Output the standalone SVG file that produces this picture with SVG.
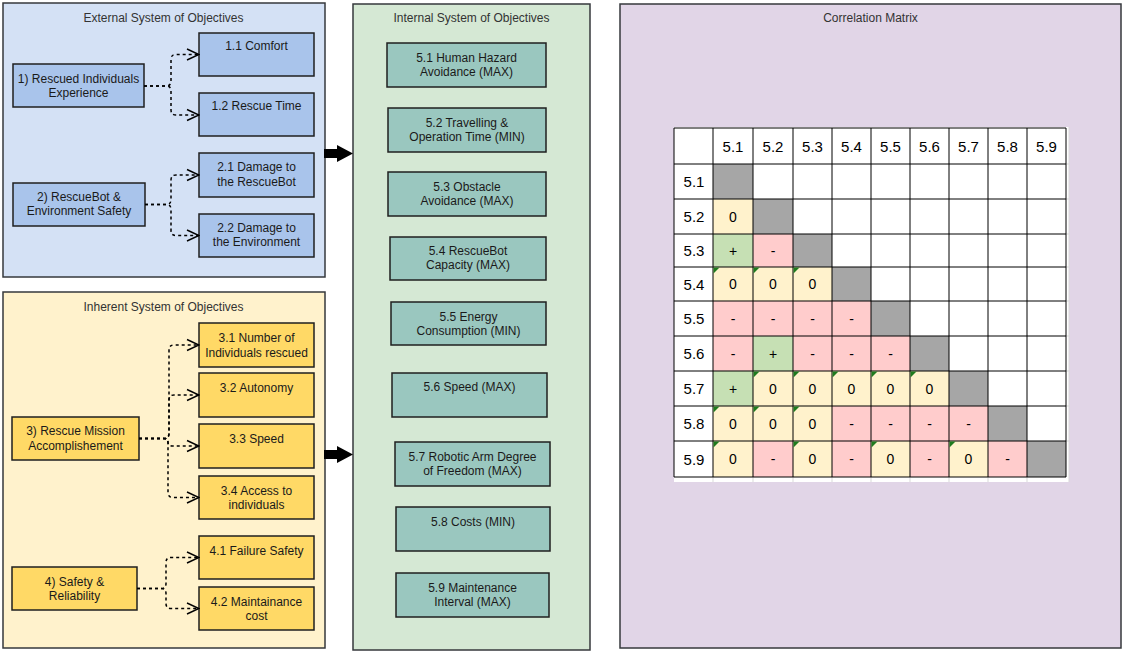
<svg xmlns="http://www.w3.org/2000/svg" width="1126" height="651" viewBox="0 0 1126 651">
<style>
.panel{stroke:#36393d;stroke-width:1.5}
.node{stroke:#1f1f1f;stroke-width:1.5}
.blue{fill:#a9c4eb}.gold{fill:#ffd966}.teal{fill:#9ac7bf}
.lbl{font-family:"Liberation Sans",Arial,sans-serif;font-size:12px;fill:#1a1a1a;text-anchor:middle}
.ttl{font-family:"Liberation Sans",Arial,sans-serif;font-size:12px;fill:#333;text-anchor:middle}
.conn{fill:none;stroke:#000;stroke-width:1.5;stroke-dasharray:3 3}
.mt{font-family:"Liberation Sans",Arial,sans-serif;font-size:15px;fill:#000;text-anchor:middle}
.mv{font-family:"Liberation Sans",Arial,sans-serif;font-size:14px;fill:#000;text-anchor:middle}
.cy{fill:#fff2cc}.cp{fill:#ffcccc}.cg{fill:#c6e0b4}.ck{fill:#a6a6a6}
.tri{fill:#1e7b1e}
.grid{stroke:#000;stroke-width:1}
.faint{stroke:#d9d9d9;stroke-width:1}
</style>
<defs>
<marker id="open" markerUnits="userSpaceOnUse" markerWidth="14" markerHeight="14" viewBox="0 0 14 14" refX="13" refY="7" orient="auto">
<path d="M1,1.5 L13,7 L1,12.5" fill="none" stroke="#000" stroke-width="1.5" stroke-dasharray="none"/>
</marker>
</defs>
<rect width="1126" height="651" fill="#ffffff"/>

<!-- Panels -->
<g id="external-panel">
<rect class="panel" x="3" y="3" width="322" height="274" fill="#d4e1f5"/>
<text class="ttl" x="163.5" y="22">External System of Objectives</text>
</g>
<g id="inherent-panel">
<rect class="panel" x="3" y="292" width="322" height="356" fill="#fff2cc"/>
<text class="ttl" x="163.5" y="310.5">Inherent System of Objectives</text>
</g>
<g id="internal-panel">
<rect class="panel" x="353" y="4" width="237" height="646" fill="#d5e8d4"/>
<text class="ttl" x="471.5" y="22">Internal System of Objectives</text>
</g>
<g id="correlation-panel">
<rect class="panel" x="620" y="4" width="501" height="644" fill="#e1d5e7"/>
<text class="ttl" x="870.5" y="22">Correlation Matrix</text>
</g>

<!-- External nodes -->
<g id="n1"><rect class="node blue" x="13" y="64" width="131" height="43"/><text class="lbl" x="78.5" y="83">1) Rescued Individuals</text><text class="lbl" x="78.5" y="97">Experience</text></g>
<g id="n1-1"><rect class="node blue" x="199" y="33" width="115" height="43"/><text class="lbl" x="256.5" y="50">1.1 Comfort</text></g>
<g id="n1-2"><rect class="node blue" x="199" y="93" width="115" height="43"/><text class="lbl" x="256.5" y="110">1.2 Rescue Time</text></g>
<g id="n2"><rect class="node blue" x="13" y="183" width="132" height="43"/><text class="lbl" x="79" y="201">2) RescueBot &amp;</text><text class="lbl" x="79" y="215">Environment Safety</text></g>
<g id="n2-1"><rect class="node blue" x="199" y="153" width="115" height="44"/><text class="lbl" x="256.5" y="171">2.1 Damage to</text><text class="lbl" x="256.5" y="186">the RescueBot</text></g>
<g id="n2-2"><rect class="node blue" x="199" y="214" width="115" height="43"/><text class="lbl" x="256.5" y="232">2.2 Damage to</text><text class="lbl" x="256.5" y="246">the Environment</text></g>

<!-- Inherent nodes -->
<g id="n3"><rect class="node gold" x="12" y="417" width="127" height="43"/><text class="lbl" x="75.5" y="435">3) Rescue Mission</text><text class="lbl" x="75.5" y="449.5">Accomplishement</text></g>
<g id="n3-1"><rect class="node gold" x="199" y="323" width="115" height="44"/><text class="lbl" x="256.5" y="342">3.1 Number of</text><text class="lbl" x="256.5" y="356.5">Individuals rescued</text></g>
<g id="n3-2"><rect class="node gold" x="199" y="373" width="115" height="44"/><text class="lbl" x="256.5" y="391.5">3.2 Autonomy</text></g>
<g id="n3-3"><rect class="node gold" x="199" y="424" width="115" height="44"/><text class="lbl" x="256.5" y="443">3.3 Speed</text></g>
<g id="n3-4"><rect class="node gold" x="199" y="476" width="115" height="43"/><text class="lbl" x="256.5" y="494.5">3.4 Access to</text><text class="lbl" x="256.5" y="509">individuals</text></g>
<g id="n4"><rect class="node gold" x="12" y="567" width="125" height="43"/><text class="lbl" x="74.5" y="585.5">4) Safety &amp;</text><text class="lbl" x="74.5" y="600">Reliability</text></g>
<g id="n4-1"><rect class="node gold" x="199" y="536" width="115" height="43"/><text class="lbl" x="256.5" y="554.5">4.1 Failure Safety</text></g>
<g id="n4-2"><rect class="node gold" x="199" y="587" width="115" height="43"/><text class="lbl" x="256.5" y="605.5">4.2 Maintainance</text><text class="lbl" x="256.5" y="620">cost</text></g>

<!-- Internal nodes -->
<g id="n5-1"><rect class="node teal" x="387" y="43" width="159" height="44"/><text class="lbl" x="466.5" y="61.5">5.1 Human Hazard</text><text class="lbl" x="466.5" y="76">Avoidance (MAX)</text></g>
<g id="n5-2"><rect class="node teal" x="388" y="108" width="158" height="44"/><text class="lbl" x="467" y="126.5">5.2 Travelling &amp;</text><text class="lbl" x="467" y="141">Operation Time (MIN)</text></g>
<g id="n5-3"><rect class="node teal" x="388" y="172" width="158" height="44"/><text class="lbl" x="467" y="190.5">5.3 Obstacle</text><text class="lbl" x="467" y="205">Avoidance (MAX)</text></g>
<g id="n5-4"><rect class="node teal" x="390" y="237" width="156" height="43"/><text class="lbl" x="468" y="255">5.4 RescueBot</text><text class="lbl" x="468" y="269">Capacity (MAX)</text></g>
<g id="n5-5"><rect class="node teal" x="391" y="302" width="155" height="43"/><text class="lbl" x="468.5" y="320.5">5.5 Energy</text><text class="lbl" x="468.5" y="334.5">Consumption (MIN)</text></g>
<g id="n5-6"><rect class="node teal" x="392" y="373" width="155" height="44"/><text class="lbl" x="469.5" y="391">5.6 Speed (MAX)</text></g>
<g id="n5-7"><rect class="node teal" x="395" y="442" width="155" height="44"/><text class="lbl" x="472.5" y="460.5">5.7 Robotic Arm Degree</text><text class="lbl" x="472.5" y="475">of Freedom (MAX)</text></g>
<g id="n5-8"><rect class="node teal" x="396" y="507" width="154" height="44"/><text class="lbl" x="473" y="525.5">5.8 Costs (MIN)</text></g>
<g id="n5-9"><rect class="node teal" x="396" y="573" width="153" height="44"/><text class="lbl" x="472.5" y="592">5.9 Maintenance</text><text class="lbl" x="472.5" y="606">Interval (MAX)</text></g>

<!-- Connectors -->
<g id="connectors">
<path class="conn" marker-end="url(#open)" d="M144,86 H166 Q171,86 171,81 V59.5 Q171,54.5 176,54.5 H199"/>
<path class="conn" marker-end="url(#open)" d="M144,86 H166 Q171,86 171,91 V110 Q171,115 176,115 H199"/>
<path class="conn" marker-end="url(#open)" d="M145,204.5 H166 Q171,204.5 171,199.5 V180 Q171,175 176,175 H199"/>
<path class="conn" marker-end="url(#open)" d="M145,204.5 H166 Q171,204.5 171,209.5 V230.5 Q171,235.5 176,235.5 H199"/>
<path class="conn" marker-end="url(#open)" d="M139,438.5 H164 Q169,438.5 169,433.5 V350 Q169,345 174,345 H199"/>
<path class="conn" marker-end="url(#open)" d="M139,438.5 H164 Q169,438.5 169,433.5 V400 Q169,395 174,395 H199"/>
<path class="conn" marker-end="url(#open)" d="M139,438.5 H164 Q168,438.5 168,442 Q168,446 172,446 H199"/>
<path class="conn" marker-end="url(#open)" d="M139,438.5 H164 Q168,438.5 168,443.5 V492.5 Q168,497.5 173,497.5 H199"/>
<path class="conn" marker-end="url(#open)" d="M137,588.5 H161 Q166,588.5 166,583.5 V562.5 Q166,557.5 171,557.5 H199"/>
<path class="conn" marker-end="url(#open)" d="M137,588.5 H161 Q166,588.5 166,593.5 V603.5 Q166,608.5 171,608.5 H199"/>
<path d="M324,149 H337 V145 L353,153.5 L337,162 V158 H324 Z" fill="#000"/>
<path d="M324,450 H337 V446 L353,454.5 L337,463 V459 H324 Z" fill="#000"/>
</g>

<!-- Correlation matrix -->
<g id="matrix">
<rect x="674" y="127" width="395" height="355" fill="#ffffff"/>
<g class="faint">
<line x1="1069" y1="127" x2="1069" y2="482"/>
<line x1="713" y1="477" x2="713" y2="482"/><line x1="753" y1="477" x2="753" y2="482"/><line x1="793" y1="477" x2="793" y2="482"/><line x1="832" y1="477" x2="832" y2="482"/><line x1="871" y1="477" x2="871" y2="482"/><line x1="910" y1="477" x2="910" y2="482"/><line x1="949" y1="477" x2="949" y2="482"/><line x1="988" y1="477" x2="988" y2="482"/><line x1="1027" y1="477" x2="1027" y2="482"/>
<line x1="1066" y1="164" x2="1069" y2="164"/><line x1="1066" y1="199" x2="1069" y2="199"/><line x1="1066" y1="234" x2="1069" y2="234"/><line x1="1066" y1="267" x2="1069" y2="267"/><line x1="1066" y1="301" x2="1069" y2="301"/><line x1="1066" y1="336" x2="1069" y2="336"/><line x1="1066" y1="371" x2="1069" y2="371"/><line x1="1066" y1="406" x2="1069" y2="406"/><line x1="1066" y1="441" x2="1069" y2="441"/>
</g>
<!-- cells -->
<rect class="ck" x="713" y="164" width="40" height="35"/>
<rect class="cy" x="713" y="199" width="40" height="35"/><rect class="ck" x="753" y="199" width="40" height="35"/>
<rect class="cg" x="713" y="234" width="40" height="33"/><rect class="cp" x="753" y="234" width="40" height="33"/><rect class="ck" x="793" y="234" width="39" height="33"/>
<rect class="cy" x="713" y="267" width="40" height="34"/><rect class="cy" x="753" y="267" width="40" height="34"/><rect class="cy" x="793" y="267" width="39" height="34"/><rect class="ck" x="832" y="267" width="39" height="34"/>
<rect class="cp" x="713" y="301" width="40" height="35"/><rect class="cp" x="753" y="301" width="40" height="35"/><rect class="cp" x="793" y="301" width="39" height="35"/><rect class="cp" x="832" y="301" width="39" height="35"/><rect class="ck" x="871" y="301" width="39" height="35"/>
<rect class="cp" x="713" y="336" width="40" height="35"/><rect class="cg" x="753" y="336" width="40" height="35"/><rect class="cp" x="793" y="336" width="39" height="35"/><rect class="cp" x="832" y="336" width="39" height="35"/><rect class="cp" x="871" y="336" width="39" height="35"/><rect class="ck" x="910" y="336" width="39" height="35"/>
<rect class="cg" x="713" y="371" width="40" height="35"/><rect class="cy" x="753" y="371" width="40" height="35"/><rect class="cy" x="793" y="371" width="39" height="35"/><rect class="cy" x="832" y="371" width="39" height="35"/><rect class="cy" x="871" y="371" width="39" height="35"/><rect class="cy" x="910" y="371" width="39" height="35"/><rect class="ck" x="949" y="371" width="39" height="35"/>
<rect class="cy" x="713" y="406" width="40" height="35"/><rect class="cy" x="753" y="406" width="40" height="35"/><rect class="cy" x="793" y="406" width="39" height="35"/><rect class="cp" x="832" y="406" width="39" height="35"/><rect class="cp" x="871" y="406" width="39" height="35"/><rect class="cp" x="910" y="406" width="39" height="35"/><rect class="cp" x="949" y="406" width="39" height="35"/><rect class="ck" x="988" y="406" width="39" height="35"/>
<rect class="cy" x="713" y="441" width="40" height="36"/><rect class="cp" x="753" y="441" width="40" height="36"/><rect class="cy" x="793" y="441" width="39" height="36"/><rect class="cp" x="832" y="441" width="39" height="36"/><rect class="cy" x="871" y="441" width="39" height="36"/><rect class="cp" x="910" y="441" width="39" height="36"/><rect class="cy" x="949" y="441" width="39" height="36"/><rect class="cp" x="988" y="441" width="39" height="36"/><rect class="ck" x="1027" y="441" width="39" height="36"/>
<!-- grid -->
<g class="grid">
<line x1="674" y1="128" x2="674" y2="477"/><line x1="713" y1="128" x2="713" y2="477"/><line x1="753" y1="128" x2="753" y2="477"/><line x1="793" y1="128" x2="793" y2="477"/><line x1="832" y1="128" x2="832" y2="477"/><line x1="871" y1="128" x2="871" y2="477"/><line x1="910" y1="128" x2="910" y2="477"/><line x1="949" y1="128" x2="949" y2="477"/><line x1="988" y1="128" x2="988" y2="477"/><line x1="1027" y1="128" x2="1027" y2="477"/><line x1="1066" y1="128" x2="1066" y2="477"/>
<line x1="674" y1="128" x2="1066" y2="128"/><line x1="674" y1="164" x2="1066" y2="164"/><line x1="674" y1="199" x2="1066" y2="199"/><line x1="674" y1="234" x2="1066" y2="234"/><line x1="674" y1="267" x2="1066" y2="267"/><line x1="674" y1="301" x2="1066" y2="301"/><line x1="674" y1="336" x2="1066" y2="336"/><line x1="674" y1="371" x2="1066" y2="371"/><line x1="674" y1="406" x2="1066" y2="406"/><line x1="674" y1="441" x2="1066" y2="441"/><line x1="674" y1="477" x2="1066" y2="477"/>
</g>
<!-- error triangles -->
<polygon class="tri" points="713.5,267.5 719.5,267.5 713.5,273.5"/><polygon class="tri" points="753.5,267.5 759.5,267.5 753.5,273.5"/><polygon class="tri" points="793.5,267.5 799.5,267.5 793.5,273.5"/>
<polygon class="tri" points="753.5,371.5 759.5,371.5 753.5,377.5"/><polygon class="tri" points="793.5,371.5 799.5,371.5 793.5,377.5"/><polygon class="tri" points="832.5,371.5 838.5,371.5 832.5,377.5"/><polygon class="tri" points="871.5,371.5 877.5,371.5 871.5,377.5"/><polygon class="tri" points="910.5,371.5 916.5,371.5 910.5,377.5"/>
<polygon class="tri" points="713.5,406.5 719.5,406.5 713.5,412.5"/><polygon class="tri" points="753.5,406.5 759.5,406.5 753.5,412.5"/><polygon class="tri" points="793.5,406.5 799.5,406.5 793.5,412.5"/>
<polygon class="tri" points="713.5,441.5 719.5,441.5 713.5,447.5"/><polygon class="tri" points="793.5,441.5 799.5,441.5 793.5,447.5"/><polygon class="tri" points="871.5,441.5 877.5,441.5 871.5,447.5"/><polygon class="tri" points="949.5,441.5 955.5,441.5 949.5,447.5"/>
<!-- headers -->
<text class="mt" x="733" y="151.5">5.1</text><text class="mt" x="773" y="151.5">5.2</text><text class="mt" x="812.5" y="151.5">5.3</text><text class="mt" x="851.5" y="151.5">5.4</text><text class="mt" x="890.5" y="151.5">5.5</text><text class="mt" x="929.5" y="151.5">5.6</text><text class="mt" x="968.5" y="151.5">5.7</text><text class="mt" x="1007.5" y="151.5">5.8</text><text class="mt" x="1046.5" y="151.5">5.9</text>
<text class="mt" x="694" y="187">5.1</text><text class="mt" x="694" y="222">5.2</text><text class="mt" x="694" y="256">5.3</text><text class="mt" x="694" y="289.5">5.4</text><text class="mt" x="694" y="324">5.5</text><text class="mt" x="694" y="359">5.6</text><text class="mt" x="694" y="394">5.7</text><text class="mt" x="694" y="429">5.8</text><text class="mt" x="694" y="464.5">5.9</text>
<!-- values -->
<text class="mv" x="733" y="221.5">0</text>
<text class="mv" x="733" y="255.5">+</text><text class="mv" x="773" y="255.5">-</text>
<text class="mv" x="733" y="289">0</text><text class="mv" x="773" y="289">0</text><text class="mv" x="812.5" y="289">0</text>
<text class="mv" x="733" y="323.5">-</text><text class="mv" x="773" y="323.5">-</text><text class="mv" x="812.5" y="323.5">-</text><text class="mv" x="851.5" y="323.5">-</text>
<text class="mv" x="733" y="358.5">-</text><text class="mv" x="773" y="358.5">+</text><text class="mv" x="812.5" y="358.5">-</text><text class="mv" x="851.5" y="358.5">-</text><text class="mv" x="890.5" y="358.5">-</text>
<text class="mv" x="733" y="393.5">+</text><text class="mv" x="773" y="393.5">0</text><text class="mv" x="812.5" y="393.5">0</text><text class="mv" x="851.5" y="393.5">0</text><text class="mv" x="890.5" y="393.5">0</text><text class="mv" x="929.5" y="393.5">0</text>
<text class="mv" x="733" y="428.5">0</text><text class="mv" x="773" y="428.5">0</text><text class="mv" x="812.5" y="428.5">0</text><text class="mv" x="851.5" y="428.5">-</text><text class="mv" x="890.5" y="428.5">-</text><text class="mv" x="929.5" y="428.5">-</text><text class="mv" x="968.5" y="428.5">-</text>
<text class="mv" x="733" y="464">0</text><text class="mv" x="773" y="464">-</text><text class="mv" x="812.5" y="464">0</text><text class="mv" x="851.5" y="464">-</text><text class="mv" x="890.5" y="464">0</text><text class="mv" x="929.5" y="464">-</text><text class="mv" x="968.5" y="464">0</text><text class="mv" x="1007.5" y="464">-</text>
</g>
</svg>
